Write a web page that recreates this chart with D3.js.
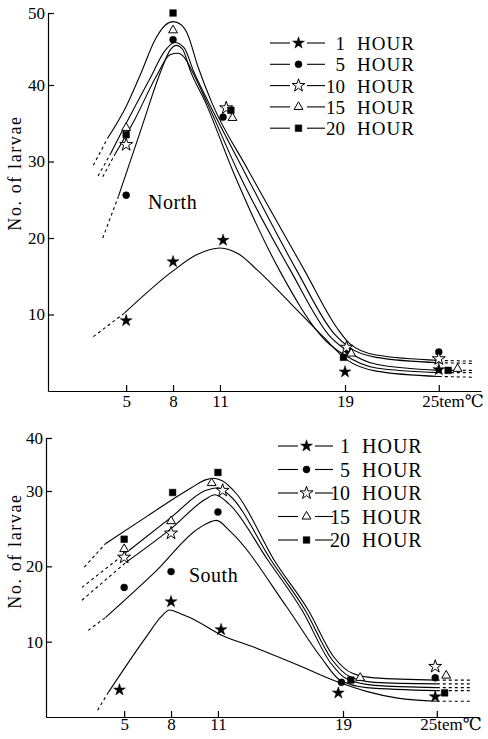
<!DOCTYPE html>
<meta charset="utf-8">
<style>
body { margin: 0; background: #fff; }
svg { display: block; font-family: 'Liberation Serif', 'DejaVu Serif', serif; }
svg text { font-family: 'Liberation Serif', 'DejaVu Serif', serif; fill: #000; }
.domain, .tick line { stroke: #000; stroke-width: 1.2px; }
.fit { fill: none; stroke: #000; stroke-width: 1.1px; }
</style>
<body></body>
<script src="https://cdnjs.cloudflare.com/ajax/libs/d3/7.8.5/d3.min.js"></script>
<script>

var hourLabels = ["1", "5", "10", "15", "20"];
var xTicks = [5, 8, 11, 19, 25];
var northTicks = [10, 20, 30, 40, 50];
var southTicks = [10, 20, 30, 40];

// observed counts, North  [temp, larvae]
var north1  = [[5, 9.2], [8, 16.9], [11.2, 19.7], [19, 2.5], [25, 2.8]];
var north5  = [[5, 25.6], [8, 46.3], [11.2, 35.8], [19.2, 5.3], [25, 5.1]];
var north10 = [[5, 32.2], [11.4, 37.0], [19.1, 5.7], [25, 4.2]];
var north15 = [[5, 34.4], [8, 47.6], [11.8, 35.7], [19.4, 4.9], [26.2, 2.9]];
var north20 = [[5, 33.5], [8, 50], [11.7, 36.7], [18.9, 4.4], [25.6, 2.7]];

// observed counts, South
var south1  = [[4.7, 3.6], [8, 15.3], [11.2, 11.6], [18.7, 3.2], [24.9, 2.7]];
var south5  = [[5, 17.2], [8, 19.3], [11, 27.2], [18.9, 4.6], [24.9, 5.2]];
var south10 = [[5, 21.2], [8, 24.4], [11.3, 30.1], [24.9, 6.7]];
var south15 = [[5, 22.3], [8, 26.0], [10.6, 31.5], [20.1, 5.2], [25.6, 5.5]];
var south20 = [[5, 23.6], [8.1, 29.8], [11, 33.5], [19.5, 4.9], [25.5, 3.2]];

// fitted curves (first and last segment are the dashed extrapolation)
var northFit1  = [[2.9, 7.1], [4.9, 10.2], [8, 15.7], [9.5, 17.8], [11, 18.7], [12.2, 17.9], [13.4, 15.8], [15.5, 11.5], [17.6, 7.1], [19.1, 4.1], [21, 2.6], [25, 1.9], [27.2, 1.8]];
var northFit5  = [[3.5, 20.0], [4.5, 25.4], [6, 34.5], [7.2, 41.8], [7.8, 44.8], [8.2, 45.5], [8.6, 45], [9.1, 42], [10.1, 37.6], [11.8, 28.9], [14.8, 15.8], [17.8, 6.5], [18.9, 4.8], [21, 3.0], [25, 2.4], [27.2, 2.4]];
var northFit10 = [[3.2, 28.1], [4.0, 31.0], [4.9, 34.6], [6.5, 40.8], [7.5, 44.8], [8.1, 45.9], [8.7, 45.2], [9.3, 42], [10.3, 37.6], [12.5, 28.9], [15.9, 15.8], [18.3, 7.5], [19.2, 5.8], [21, 4.4], [25, 3.7], [27.2, 3.6]];
var northFit15 = [[3.5, 28.0], [4.3, 31.0], [5.5, 35.3], [7, 41.5], [7.8, 44.2], [8.3, 44.4], [8.8, 43.6], [9.2, 42], [10.2, 37.6], [12.1, 28.9], [15.5, 15.8], [18.1, 7], [19.1, 5.3], [21, 3.5], [25, 2.7], [27.2, 2.7]];
var northFit20 = [[2.9, 29.5], [3.8, 33.0], [5, 37.2], [5.9, 41.4], [6.9, 46.5], [7.5, 48.3], [8, 48.8], [8.5, 48.4], [8.9, 47.2], [9.6, 42.5], [10.5, 37.6], [12.8, 28.9], [16.4, 15.8], [18.5, 8.2], [19.3, 6.2], [21, 4.7], [25, 4.0], [27.2, 3.9]];

var southFit1  = [[3.3, 0.9], [4.0, 3.3], [6.4, 10.6], [7.4, 13.4], [7.9, 14.2], [8.6, 13.7], [9.2, 13.2], [11.2, 10.9], [13.4, 9.2], [16, 7.0], [18.6, 4.7], [20.5, 3.4], [22.5, 2.5], [25, 2.1], [27.2, 2.1]];
var southFit5  = [[2.7, 11.5], [3.8, 13.2], [7, 19.3], [9.8, 25.1], [10.9, 26.1], [11.8, 24.6], [15.4, 14.6], [17.6, 7.9], [18.8, 4.9], [20.5, 3.9], [25, 3.5], [27.2, 3.5]];
var southFit10 = [[2.3, 15.5], [5.1, 20.5], [8, 25.0], [10.2, 28.9], [10.8, 29.5], [11.7, 28.3], [14.2, 20.8], [16.4, 14.1], [18.2, 7.2], [19.2, 5.1], [21, 4.2], [25, 3.9], [27.2, 3.9]];
var southFit15 = [[2.3, 17.2], [5.3, 22.1], [8, 26.5], [10.2, 30.1], [11, 30.6], [11.8, 29.3], [14.4, 20.8], [16.6, 14.1], [18.3, 7.6], [19.4, 5.4], [21, 4.6], [25, 4.4], [27.2, 4.4]];
var southFit20 = [[2.45, 19.9], [3.8, 23.0], [6.5, 26.7], [9.3, 30.6], [10.2, 32.1], [10.7, 32.4], [11.3, 31.9], [12.2, 29.6], [14.6, 20.8], [16.8, 14.1], [18.4, 8], [19.6, 5.8], [21, 5.2], [25, 4.9], [27.2, 4.9]];

var symbolTypes = [d3.symbolStar, d3.symbolCircle, d3.symbolStar, d3.symbolTriangle, d3.symbolSquare];
var symbolFilled = [true, true, false, false, true];
var symbolSizes = [44, 38, 52, 34, 44];

var serif = "'Liberation Serif', 'DejaVu Serif', serif";

var svg = d3.select("body").append("svg")
    .attr("width", 488)
    .attr("height", 739);

var panels = [
  {
    name: "North", yTicks: northTicks,
    x: d3.scaleLinear().domain([0, 27.7]).range([48, 481]),
    y: d3.scaleLinear().domain([0, 40, 50]).range([391, 85, 13]),
    points: [north1, north5, north10, north15, north20],
    fits: [northFit1, northFit5, northFit10, northFit15, northFit20],
    nameX: 148, nameY: 209, labelY: 173, tickPad: 4,
    legX: 270, legY: 43, legStep: 21.3, legFont: 19, numX: 345, hourX: 357
  },
  {
    name: "South", yTicks: southTicks,
    x: d3.scaleLinear().domain([0, 27.7]).range([46, 479]),
    y: d3.scaleLinear().domain([0, 30, 40]).range([717, 491, 438]),
    points: [south1, south5, south10, south15, south20],
    fits: [southFit1, southFit5, southFit10, southFit15, southFit20],
    nameX: 189, nameY: 582, labelY: 551, tickPad: 1,
    legX: 278, legY: 446, legStep: 23.5, legFont: 20, numX: 350, hourX: 362
  }
];

function marker(g, i) {
  g.append("path")
    .attr("d", d3.symbol().type(symbolTypes[i]).size(symbolSizes[i]))
    .attr("fill", symbolFilled[i] ? "#000" : "#fff")
    .attr("stroke", "#000")
    .attr("stroke-width", symbolFilled[i] ? 0.5 : 1);
}

panels.forEach(function(p) {
  var g = svg.append("g");
  var x = p.x, y = p.y;

  // axes
  g.append("g")
      .attr("transform", "translate(" + x(0) + ",0)")
      .call(d3.axisLeft(y).tickValues(p.yTicks).tickSizeInner(-6).tickSizeOuter(0).tickPadding(3));
  var xAxis = g.append("g")
      .attr("transform", "translate(0," + y(0) + ")")
      .call(d3.axisBottom(x).tickValues(xTicks).tickSizeInner(-6).tickSizeOuter(0).tickPadding(p.tickPad)
        .tickFormat(function(d) { return d === 25 ? "25tem\u2103" : d; }));
  g.selectAll(".tick text")
      .style("font-family", serif)
      .style("font-size", "17px");
  xAxis.selectAll(".tick text")
      .filter(function(d) { return d === 25; })
      .attr("text-anchor", "start")
      .attr("x", -17);

  g.append("text")
      .attr("transform", "translate(21," + p.labelY + ") rotate(-90)")
      .attr("text-anchor", "middle")
      .style("font-family", serif)
      .style("font-size", "18px")
      .style("letter-spacing", "1.6px")
      .text("No. of larvae");

  g.append("text")
      .attr("x", p.nameX).attr("y", p.nameY)
      .style("font-family", serif)
      .style("font-size", "20px")
      .style("letter-spacing", "0.5px")
      .text(p.name);

  // fitted curves
  var smooth = d3.line().x(function(d) { return x(d[0]); }).y(function(d) { return y(d[1]); })
      .curve(d3.curveMonotoneX);
  var straight = d3.line().x(function(d) { return x(d[0]); }).y(function(d) { return y(d[1]); });

  p.fits.forEach(function(k) {
    var n = k.length;
    g.append("path").attr("class", "fit").attr("d", smooth(k.slice(1, n - 1)));
    g.append("path").attr("class", "fit").attr("stroke-dasharray", "3,3").attr("d", straight(k.slice(0, 2)));
    g.append("path").attr("class", "fit").attr("stroke-dasharray", "3,3").attr("d", straight(k.slice(n - 2)));
  });

  // observed points
  p.points.forEach(function(pts, i) {
    g.selectAll(null)
      .data(pts)
      .enter().append("g")
        .attr("transform", function(d) { return "translate(" + x(d[0]) + "," + y(d[1]) + ")"; })
        .each(function() { marker(d3.select(this), i); });
  });

  // legend
  hourLabels.forEach(function(h, i) {
    var ly = p.legY + i * p.legStep;
    var row = g.append("g").attr("transform", "translate(0," + ly + ")");
    row.append("line").attr("x1", p.legX).attr("x2", p.legX + 20).attr("stroke", "#000").attr("stroke-width", 1.1);
    row.append("line").attr("x1", p.legX + 37).attr("x2", p.legX + 55).attr("stroke", "#000").attr("stroke-width", 1.1);
    var m = row.append("g").attr("transform", "translate(" + (p.legX + 28.5) + ",0)");
    marker(m, i);
    row.append("text").attr("x", p.numX).attr("y", 7).attr("text-anchor", "end")
      .style("font-family", serif).style("font-size", p.legFont + "px").text(h);
    row.append("text").attr("x", p.hourX).attr("y", 7)
      .style("font-family", serif).style("font-size", p.legFont + "px")
      .style("letter-spacing", "1px").text("HOUR");
  });
});

</script>
